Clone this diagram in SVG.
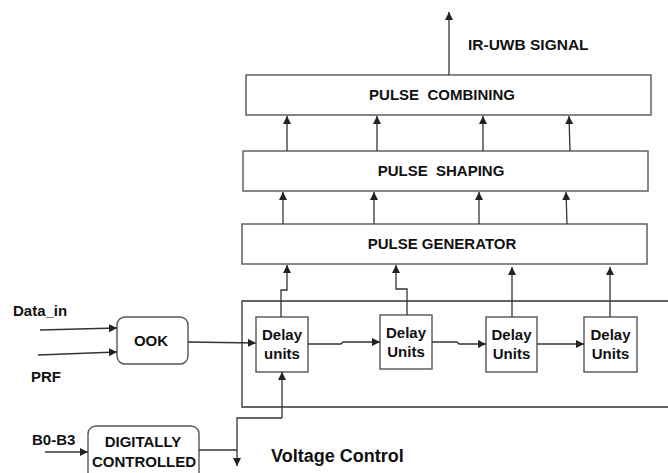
<svg xmlns="http://www.w3.org/2000/svg" width="668" height="473" viewBox="0 0 668 473">
<defs>
<marker id="ah" markerUnits="userSpaceOnUse" markerWidth="10" markerHeight="10" refX="8" refY="4" orient="auto">
<path d="M0,0 L8,4 L0,8 z" fill="#222"/>
</marker>
<style>
.box{fill:#fff;stroke:#555;stroke-width:1.4}
.ln{fill:none;stroke:#333;stroke-width:1.3}
.ar{fill:none;stroke:#333;stroke-width:1.3;marker-end:url(#ah)}
text{font-family:"Liberation Sans",Arial,sans-serif;font-weight:bold;fill:#111;font-size:15px}
.c{text-anchor:middle}
</style>
</defs>
<rect width="668" height="473" fill="#fff"/>

<g id="pulse-combining">
<rect class="box" x="246" y="75" width="405" height="40"/>
<text class="c" x="442" y="100" xml:space="preserve">PULSE  COMBINING</text>
</g>
<g id="pulse-shaping">
<rect class="box" x="243" y="151" width="405" height="40"/>
<text class="c" x="441" y="176" xml:space="preserve">PULSE  SHAPING</text>
</g>
<g id="pulse-generator">
<rect class="box" x="242" y="224" width="405" height="40"/>
<text class="c" x="442" y="249">PULSE GENERATOR</text>
</g>
<g id="delay-block">
<path class="ln" d="M668,301 H242 V407 H668"/>
</g>
<g id="delay1">
<rect class="box" x="256" y="317" width="52" height="55"/>
<text class="c" x="282" y="340">Delay</text>
<text class="c" x="282" y="359">units</text>
</g>
<g id="delay2">
<rect class="box" x="380" y="315" width="52" height="54"/>
<text class="c" x="406" y="338">Delay</text>
<text class="c" x="406" y="357">Units</text>
</g>
<g id="delay3">
<rect class="box" x="486" y="317" width="51" height="55"/>
<text class="c" x="511.5" y="340">Delay</text>
<text class="c" x="511.5" y="359">Units</text>
</g>
<g id="delay4">
<rect class="box" x="584" y="317" width="53" height="55"/>
<text class="c" x="610.5" y="340">Delay</text>
<text class="c" x="610.5" y="359">Units</text>
</g>
<g id="ook">
<rect class="box" x="117" y="317" width="71" height="47" rx="8"/>
<text class="c" x="151" y="346">OOK</text>
</g>
<g id="digital">
<rect class="box" x="88" y="426" width="111" height="60" rx="8"/>
<text class="c" x="143" y="447">DIGITALLY</text>
<text class="c" x="144" y="467">CONTROLLED</text>
</g>
<g id="labels">
<text x="468" y="50" style="font-size:15.5px">IR-UWB SIGNAL</text>
<text x="13" y="316">Data_in</text>
<text x="31" y="382">PRF</text>
<text x="32" y="445">B0-B3</text>
<text x="271" y="462" style="font-size:18px">Voltage Control</text>
</g>
<g id="connectors">
<path class="ar" d="M449,75 V12"/>
<path class="ar" d="M287,151 V116"/>
<path class="ar" d="M377,151 V116"/>
<path class="ar" d="M483,151 V116"/>
<path class="ar" d="M570,151 L569,116"/>
<path class="ar" d="M283,224 V192"/>
<path class="ar" d="M374,224 V192"/>
<path class="ar" d="M479,224 V192"/>
<path class="ar" d="M567,224 L566,192"/>
<path class="ar" d="M281,317 V290 H287 V265"/>
<path class="ar" d="M407,315 V289 H396 V265"/>
<path class="ar" d="M512,317 V267"/>
<path class="ar" d="M610,317 V267"/>
<path class="ar" d="M308,344 H341 L343,342 H380"/>
<path class="ar" d="M432,342 H457 L459,344 H486"/>
<path class="ar" d="M537,344 H584"/>
<path class="ar" d="M188,342 L256,343"/>
<path class="ar" d="M40,330 L117,328"/>
<path class="ar" d="M38,355 L117,352"/>
<path class="ar" d="M45,452 H88"/>
<path class="ln" d="M199,450 H237"/>
<path class="ar" d="M282,418 H237 V466"/>
<path class="ar" d="M282,418 V372"/>
</g>
</svg>
